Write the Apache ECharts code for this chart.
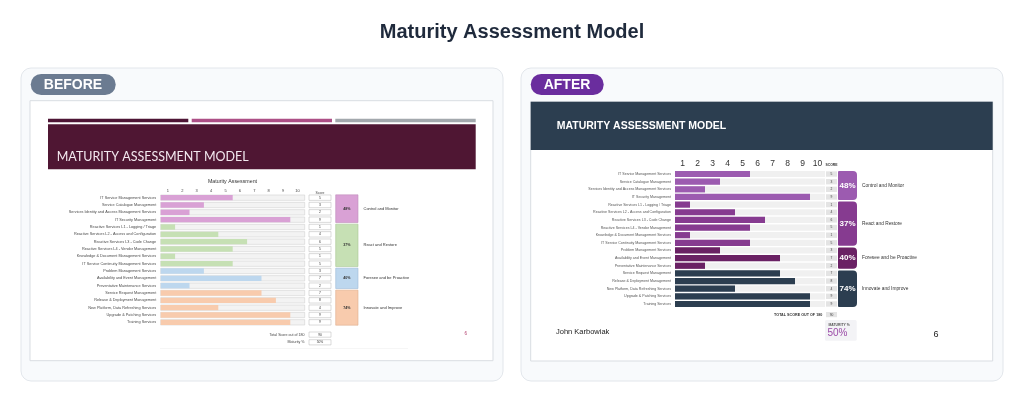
<!DOCTYPE html>
<html>
<head>
<meta charset="utf-8">
<script src="https://cdn.jsdelivr.net/npm/echarts@6/dist/echarts.min.js"></script>
<style>
  html, body { margin: 0; padding: 0; background: #fff; }
  #root { width: 1024px; height: 402px; }
</style>
</head>
<body>
<div id="root"></div>
<script>
// data
const categories = [
  'IT Service Management Services',
  'Service Catalogue Management',
  'Services Identity and Access Management Services',
  'IT Security Management',
  'Reactive Services L1 - Logging / Triage',
  'Reactive Services L2 - Access and Configuration',
  'Reactive Services L3 - Code Change',
  'Reactive Services L4 - Vendor Management',
  'Knowledge & Document Management Services',
  'IT Service Continuity Management Services',
  'Problem Management Services',
  'Availability and Event Management',
  'Preventative Maintenance Services',
  'Service Request Management',
  'Release & Deployment Management',
  'New Platform, Data Refreshing Services',
  'Upgrade & Patching Services',
  'Training Services'
]
const scores = [5, 3, 2, 9, 1, 4, 6, 5, 1, 5, 3, 7, 2, 7, 8, 4, 9, 9]
const tickLabels = ['1', '2', '3', '4', '5', '6', '7', '8', '9', '10']
const groupNames = ['Control and Monitor', 'React and Restore', 'Foresee and be Proactive', 'Innovate and Improve']
const groupRows = [[0, 3], [4, 9], [10, 12], [13, 17]]
const groupPct = [48, 37, 40, 74]
const totalScore = 90
const maxTotal = 180
const maturityPct = 50
const pageNo = 6

const beforeColors = ['#d9a1d5', '#c6e0b4', '#bdd7ee', '#f8cbad']
const beforeEdge = ['#c08dbc', '#a9c896', '#9dbbd6', '#deae8e']
const afterColors = ['#9c5bb0', '#863b90', '#6a2164', '#2c3e50']

const FONT = 'Liberation Sans, Arial, sans-serif'

function rowGroup(i) {
  return groupRows.findIndex(([a, b]) => i >= a && i <= b)
}

const main = document.getElementById('root')
const chart = echarts.init(main, null, { renderer: 'canvas' })

// grids: before bars / score / group, after bars / score / group
const grids = [
  { left: 160.7, top: 194, width: 144, height: 132 },
  { left: 309, top: 194, width: 22, height: 132 },
  { left: 335.7, top: 194, width: 22.3, height: 132 },
  { left: 675, top: 170.2, width: 150, height: 137.6 },
  { left: 826, top: 170.2, width: 11, height: 137.6 },
  { left: 838, top: 170.2, width: 19, height: 137.6 }
]

const yAxes = grids.map((g, i) => ({
  type: 'category',
  gridIndex: i,
  data: categories,
  inverse: true,
  axisLine: { show: false },
  axisTick: { show: false },
  axisLabel: {
    show: i === 0 || i === 3,
    fontSize: i === 0 ? 3.8 : 3.6,
    color: i === 0 ? '#4a4a4a' : '#555',
    fontFamily: FONT,
    margin: i === 0 ? 4.5 : 4
  }
}))

function valueAxis(gridIndex) {
  return { type: 'value', gridIndex, min: 0, max: 10, show: false }
}

const xAxes = [
  valueAxis(0),
  {
    type: 'category', gridIndex: 0, position: 'top', data: tickLabels,
    axisLine: { show: false }, axisTick: { show: false },
    axisLabel: { fontSize: 4, color: '#444', margin: 1.5, fontFamily: FONT }
  },
  valueAxis(1),
  valueAxis(2),
  valueAxis(3),
  {
    type: 'category', gridIndex: 3, position: 'top', data: tickLabels,
    axisLine: { show: false }, axisTick: { show: false },
    axisLabel: { fontSize: 8.5, color: '#333', margin: 2, fontFamily: FONT }
  },
  valueAxis(4),
  valueAxis(5)
]

function scoreBoxes(fill, stroke, h, fontSize, color) {
  return (params, api) => {
    const cs = params.coordSys
    const y = api.coord([0, api.value(1)])[1]
    return {
      type: 'group',
      children: [
        { type: 'rect', shape: { x: cs.x, y: y - h / 2, width: cs.width, height: h },
          style: { fill, stroke, lineWidth: stroke ? 0.5 : 0 } },
        { type: 'text', style: { text: String(api.value(0)), x: cs.x + cs.width / 2, y,
          align: 'center', verticalAlign: 'middle', fontSize, fill: color, fontFamily: FONT } }
      ]
    }
  }
}

function groupBoxes(isAfter) {
  return (params, api) => {
    const cs = params.coordSys
    const g = params.dataIndex
    const band = api.size([0, 1])[1]
    const top = api.coord([0, api.value(1)])[1] - band / 2 + 0.8
    const bottom = api.coord([0, api.value(2)])[1] + band / 2 - 0.8
    const mid = (top + bottom) / 2
    return {
      type: 'group',
      children: [
        { type: 'rect', shape: { x: cs.x, y: top, width: cs.width, height: bottom - top, r: isAfter ? [1, 4, 4, 1] : 0 },
          style: isAfter ? { fill: afterColors[g] } : { fill: beforeColors[g], stroke: beforeEdge[g], lineWidth: 0.6 } },
        { type: 'text', style: { text: groupPct[g] + '%', x: cs.x + cs.width / 2, y: mid,
          align: 'center', verticalAlign: 'middle', fontFamily: FONT,
          fontSize: isAfter ? 8 : 3.6, fontWeight: 'bold', fill: isAfter ? '#fff' : '#333' } },
        { type: 'text', style: { text: groupNames[g], x: cs.x + cs.width + (isAfter ? 5 : 5.5), y: mid,
          align: 'left', verticalAlign: 'middle', fontFamily: FONT,
          fontSize: isAfter ? 4.8 : 4, fill: '#333' } }
      ]
    }
  }
}

const scoreData = scores.map((s, i) => [s, i])
const groupData = groupRows.map(([a, b]) => [0, a, b])

const series = [
  {
    type: 'bar', xAxisIndex: 0, yAxisIndex: 0, data: scores, barWidth: 5.4,
    showBackground: true,
    backgroundStyle: { color: '#f3f3f3', borderColor: '#cbcbcb', borderWidth: 0.5 },
    itemStyle: { color: (p) => beforeColors[rowGroup(p.dataIndex)] },
    silent: true
  },
  {
    type: 'custom', xAxisIndex: 2, yAxisIndex: 1, data: scoreData, encode: { x: 0, y: 1 },
    renderItem: scoreBoxes('#fff', '#b5b5b5', 5.4, 3.3, '#333'), silent: true
  },
  {
    type: 'custom', xAxisIndex: 3, yAxisIndex: 2, data: groupData, encode: { x: 0, y: [1, 2] },
    renderItem: groupBoxes(false), silent: true
  },
  {
    type: 'bar', xAxisIndex: 4, yAxisIndex: 3, data: scores, barWidth: 6.2,
    showBackground: true,
    backgroundStyle: { color: '#f0f0f0' },
    itemStyle: { color: (p) => afterColors[rowGroup(p.dataIndex)] },
    silent: true
  },
  {
    type: 'custom', xAxisIndex: 6, yAxisIndex: 4, data: scoreData, encode: { x: 0, y: 1 },
    renderItem: scoreBoxes('#e4e4e4', null, 5.4, 3.3, '#444'), silent: true
  },
  {
    type: 'custom', xAxisIndex: 7, yAxisIndex: 5, data: groupData, encode: { x: 0, y: [1, 2] },
    renderItem: groupBoxes(true), silent: true
  }
]

function txt(text, x, y, size, fill, extra) {
  return { type: 'text', x, y, style: Object.assign({ text, fontSize: size, fill, fontFamily: FONT,
    verticalAlign: 'middle' }, extra || {}) }
}

const graphic = [
  txt('Maturity Assessment Model', 512, 32, 20, '#1f2a3c', { align: 'center', fontWeight: 'bold' }),
  // cards
  { type: 'rect', shape: { x: 21, y: 68, width: 482, height: 313, r: 10 }, style: { fill: '#f8fafc', stroke: '#e2e6eb', lineWidth: 1 } },
  { type: 'rect', shape: { x: 521, y: 68, width: 482, height: 313, r: 10 }, style: { fill: '#f8fafc', stroke: '#e2e6eb', lineWidth: 1 } },
  // slides
  { type: 'rect', shape: { x: 30, y: 100.7, width: 463, height: 260 }, style: { fill: '#fff', stroke: '#d9dde2', lineWidth: 1 } },
  { type: 'rect', shape: { x: 530.7, y: 101.7, width: 462, height: 259.3 }, style: { fill: '#fff', stroke: '#d9dde2', lineWidth: 1 } },
  // pills
  { type: 'rect', shape: { x: 30.7, y: 74, width: 85, height: 21, r: 10.5 }, style: { fill: '#6b7b91' } },
  txt('BEFORE', 73, 84.8, 14, '#fff', { align: 'center', fontWeight: 'bold' }),
  { type: 'rect', shape: { x: 530.7, y: 74, width: 73, height: 21, r: 10.5 }, style: { fill: '#6a2d9e' } },
  txt('AFTER', 567, 84.8, 14, '#fff', { align: 'center', fontWeight: 'bold' }),
  // before header
  { type: 'rect', shape: { x: 48, y: 118.8, width: 140.3, height: 3.5 }, style: { fill: '#4e1535' } },
  { type: 'rect', shape: { x: 191.7, y: 118.8, width: 140.3, height: 3.5 }, style: { fill: '#ad4f86' } },
  { type: 'rect', shape: { x: 335.3, y: 118.8, width: 140.4, height: 3.5 }, style: { fill: '#a3a8ad' } },
  { type: 'rect', shape: { x: 48, y: 124.3, width: 427.7, height: 45 }, style: { fill: '#4f1633' } },
  txt('MATURITY ASSESSMENT MODEL', 56.7, 157, 12.5, '#f3e8ef', { fontFamily: 'Lato, sans-serif' }),
  txt('Maturity Assessment', 232.5, 182, 5.3, '#333', { align: 'center' }),
  txt('Score', 320, 193, 3.4, '#444', { align: 'center' }),
  txt('Total Score out of ' + maxTotal, 304.5, 334.6, 3.6, '#444', { align: 'right' }),
  { type: 'rect', shape: { x: 309, y: 332, width: 22, height: 5.2 }, style: { fill: '#fff', stroke: '#b5b5b5', lineWidth: 0.5 } },
  txt(String(totalScore), 320, 334.6, 3.3, '#333', { align: 'center' }),
  txt('Maturity %', 304.5, 342.3, 3.6, '#444', { align: 'right' }),
  { type: 'rect', shape: { x: 309, y: 339.7, width: 22, height: 5.2 }, style: { fill: '#fff', stroke: '#b5b5b5', lineWidth: 0.5 } },
  txt(maturityPct + '%', 320, 342.3, 3.3, '#333', { align: 'center' }),
  txt(String(pageNo), 465.7, 334, 4.5, '#b03a6a', { align: 'center' }),
  { type: 'rect', shape: { x: 160, y: 348, width: 248, height: 0.6 }, style: { fill: '#eeeeee' } },
  // after header
  { type: 'rect', shape: { x: 530.7, y: 101.7, width: 462, height: 48.3 }, style: { fill: '#2c3e50' } },
  txt('MATURITY ASSESSMENT MODEL', 556.7, 126.5, 10.5, '#fff', { fontWeight: 'bold' }),
  txt('SCORE', 831.5, 165, 3.4, '#333', { align: 'center', fontWeight: 'bold' }),
  txt('TOTAL SCORE OUT OF ' + maxTotal, 822.3, 314.5, 3.7, '#333', { align: 'right', fontWeight: 'bold' }),
  { type: 'rect', shape: { x: 826, y: 312, width: 11, height: 5.2 }, style: { fill: '#e4e4e4' } },
  txt(String(totalScore), 831.5, 314.6, 3.3, '#444', { align: 'center' }),
  { type: 'rect', shape: { x: 825, y: 320, width: 31.7, height: 20.7, r: 1.5 }, style: { fill: '#f3f3f6' } },
  txt('MATURITY %', 828.5, 325, 3.4, '#555', { fontWeight: 'bold' }),
  txt(maturityPct + '%', 827.5, 333.3, 10, '#9b4ca8'),
  txt('John Karbowiak', 556, 332.3, 7.5, '#222'),
  txt(String(pageNo), 936, 334.3, 9, '#222', { align: 'center' })
]

const option = {
  animation: false,
  grid: grids,
  xAxis: xAxes,
  yAxis: yAxes,
  series,
  graphic
}

chart.setOption(option)
</script>
</body>
</html>
